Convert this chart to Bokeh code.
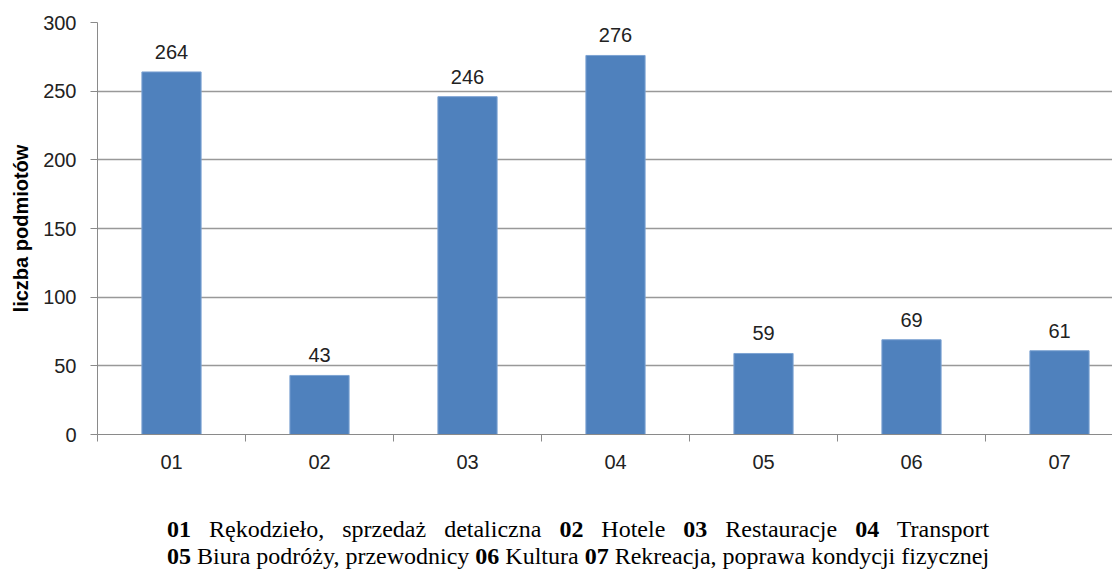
from bokeh.plotting import figure
from bokeh.models import Range1d, FixedTicker, Div, ColumnDataSource
from bokeh.layouts import column
from bokeh.embed import file_html
from bokeh.resources import INLINE
from bokeh.core.properties import value

categories = ["01", "02", "03", "04", "05", "06", "07"]
counts = [264, 43, 246, 276, 59, 69, 61]
y_ticks = [0, 50, 100, 150, 200, 250, 300]
y_title = "liczba podmiotów"
legend_codes = ["01", "02", "03", "04", "05", "06", "07"]
legend_names = [
    "Rękodzieło, sprzedaż detaliczna",
    "Hotele",
    "Restauracje",
    "Transport",
    "Biura podróży, przewodnicy",
    "Kultura",
    "Rekreacja, poprawa kondycji fizycznej",
]

positions = list(range(1, len(categories) + 1))
src = ColumnDataSource(dict(x=positions, top=counts, label=[str(c) for c in counts]))

FIG_W = 1112
LEFT = 97
TOP = 22
UNIT = 148.0
frame_w = FIG_W - LEFT
x_end = 0.5 + frame_w / UNIT

p = figure(width=FIG_W, height=TOP + 412 + 44, output_backend="svg", toolbar_location=None,
           x_range=Range1d(0.5, x_end), y_range=Range1d(0, 300),
           min_border_left=LEFT, min_border_right=0, min_border_top=TOP, min_border_bottom=44)
p.outline_line_color = None
p.background_fill_color = "white"
p.border_fill_color = "white"

p.vbar(x="x", top="top", width=0.4, source=src, fill_color="#4F81BD",
       line_color="#7da3d3", line_width=1)
p.text(x="x", y="top", text="label", source=src, text_align="center",
       text_baseline="alphabetic", y_offset=-20, text_font=value("Liberation Sans"),
       text_font_size="20px", text_color="#222222")

AX = "#8a8a8a"
# x axis
xa = p.xaxis[0]
xa.ticker = FixedTicker(ticks=positions, minor_ticks=[i + 0.5 for i in range(0, len(categories) + 1)])
xa.major_label_overrides = {i: c for i, c in zip(positions, categories)}
xa.major_tick_out = 0
xa.major_tick_in = 0
xa.minor_tick_out = 7
xa.minor_tick_in = 0
xa.minor_tick_line_color = AX
xa.axis_line_color = AX
xa.major_label_text_font = "Liberation Sans"
xa.major_label_text_font_size = "20px"
xa.major_label_text_color = "#222222"
xa.major_label_standoff = 13

# y axis
ya = p.yaxis[0]
ya.ticker = FixedTicker(ticks=y_ticks)
ya.major_tick_out = 7
ya.major_tick_in = 0
ya.minor_tick_line_color = None
ya.major_tick_line_color = AX
ya.axis_line_color = AX
ya.major_label_text_font = "Liberation Sans"
ya.major_label_text_font_size = "20px"
ya.major_label_text_color = "#222222"
ya.major_label_standoff = 14
ya.axis_label = y_title
ya.axis_label_text_font = "Liberation Sans"
ya.axis_label_text_font_style = "bold"
ya.axis_label_text_font_size = "20px"
ya.axis_label_text_color = "#000000"
ya.axis_label_standoff = 8

p.xgrid.grid_line_color = None
p.ygrid.ticker = FixedTicker(ticks=y_ticks)
p.ygrid.grid_line_color = "#999999"
p.ygrid.grid_line_width = 1.5

items = list(zip(legend_codes, legend_names))
parts1 = " ".join(f"<b>{k}</b> {v}" for k, v in items[:4])
parts2 = " ".join(f"<b>{k}</b> {v}" for k, v in items[4:])
html = (f'<div style="text-align:justify;text-align-last:justify;">{parts1}</div>'
        f'<div style="text-align:left;white-space:nowrap;">{parts2}</div>')
div = Div(text=html, width=833, margin=(38, 0, 0, 167),
          styles={"font-family": "'Liberation Serif', 'Times New Roman', serif",
                  "font-size": "24px", "line-height": "27px", "color": "#000000"})

layout = column(p, div, spacing=0)
open("out.html", "w").write(file_html(layout, INLINE))
